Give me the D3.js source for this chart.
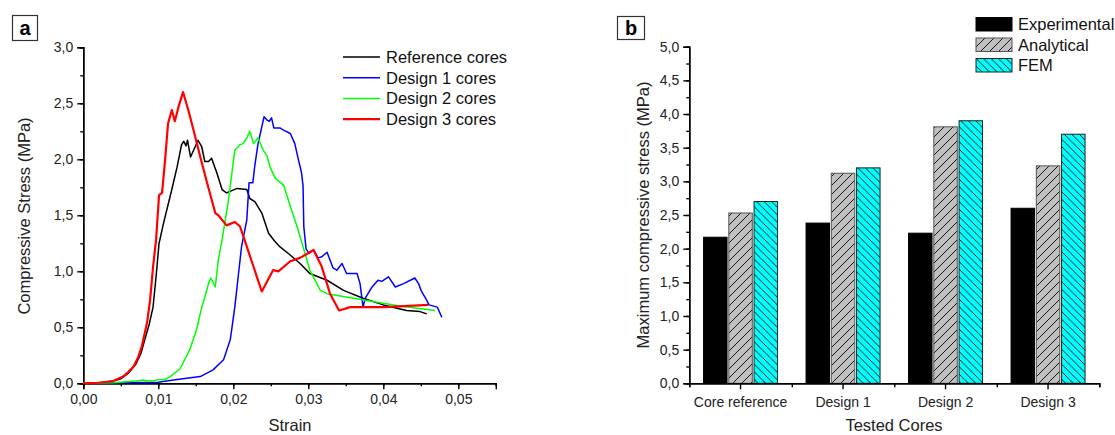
<!DOCTYPE html>
<html lang="en">
<head>
	<meta charset="UTF-8">
	<title>Compressive stress</title>
	<script src="https://cdn.jsdelivr.net/npm/d3@7"></script>
	<style>
		body{margin:0;background:#fff;}
		svg{display:block;font-family:"Liberation Sans",Arial,sans-serif;}
		.tick text{font-size:14px;fill:#222;}
		.domain,.tick line{stroke:#000;stroke-width:1.4;}
		.title{font-size:16.5px;fill:#222;}
		.leg{font-size:16.5px;fill:#111;}
	</style>
</head>
<body>
	<svg id="svg" width="1115" height="435"></svg>
	<script>
		// panel a : stress-strain curves [strain, stress MPa]
		var refCores = [[0,0],[0.002,0.003],[0.004,0.02],[0.005,0.04],[0.006,0.09],[0.007,0.17],[0.0077,0.27],[0.0082,0.39],[0.0088,0.53],[0.0093,0.68],[0.0097,0.95],[0.0101,1.25],[0.0107,1.43],[0.0118,1.73],[0.0125,1.93],[0.0131,2.13],[0.0134,2.16],[0.0137,2.12],[0.0139,2.17],[0.0143,2.02],[0.0149,2.11],[0.0153,2.17],[0.0158,2.11],[0.0162,1.98],[0.0167,1.98],[0.0171,2.01],[0.0178,1.88],[0.0185,1.73],[0.0191,1.70],[0.0198,1.72],[0.0205,1.74],[0.0218,1.73],[0.0222,1.65],[0.0229,1.62],[0.0238,1.52],[0.0247,1.34],[0.0255,1.27],[0.0262,1.22],[0.0275,1.15],[0.0289,1.07],[0.0302,0.98],[0.0325,0.92],[0.0347,0.83],[0.0373,0.76],[0.040,0.70],[0.0431,0.65],[0.0449,0.64],[0.0458,0.62]];
		var design1 = [[0,0],[0.005,0.005],[0.01,0.01],[0.012,0.03],[0.0156,0.06],[0.0173,0.12],[0.0187,0.21],[0.0196,0.39],[0.0202,0.68],[0.0207,0.98],[0.0211,1.22],[0.0218,1.46],[0.0221,1.79],[0.0226,1.79],[0.0229,1.96],[0.0233,2.14],[0.0238,2.29],[0.0241,2.38],[0.0245,2.35],[0.0248,2.34],[0.0251,2.37],[0.0254,2.28],[0.0262,2.28],[0.0267,2.26],[0.0276,2.23],[0.0282,2.14],[0.0287,1.99],[0.0291,1.88],[0.0293,1.76],[0.0294,1.40],[0.0297,1.20],[0.0301,1.16],[0.0307,1.19],[0.0313,1.12],[0.0318,1.13],[0.0325,1.17],[0.0333,1.03],[0.0338,1.01],[0.0345,1.07],[0.0351,0.98],[0.0365,0.98],[0.0369,0.89],[0.0373,0.68],[0.0376,0.76],[0.0385,0.86],[0.0393,0.92],[0.0398,0.91],[0.0407,0.95],[0.0416,0.86],[0.0427,0.89],[0.0442,0.94],[0.0447,0.89],[0.0451,0.82],[0.0458,0.74],[0.0461,0.70],[0.0472,0.68],[0.0478,0.59]];
		var design2 = [[0,0],[0.004,0.005],[0.007,0.02],[0.008,0.03],[0.0085,0.02],[0.0095,0.025],[0.0102,0.035],[0.0108,0.03],[0.0116,0.06],[0.0129,0.13],[0.0142,0.30],[0.0151,0.48],[0.0158,0.68],[0.0162,0.77],[0.0167,0.89],[0.017,0.94],[0.0176,0.86],[0.018,1.10],[0.0185,1.28],[0.0193,1.61],[0.0202,2.08],[0.0209,2.13],[0.0213,2.14],[0.0218,2.19],[0.0222,2.25],[0.0227,2.14],[0.0233,2.19],[0.024,2.08],[0.0245,2.03],[0.0249,1.93],[0.0256,1.83],[0.0267,1.77],[0.0276,1.58],[0.0285,1.40],[0.0293,1.22],[0.0302,1.01],[0.0316,0.83],[0.0325,0.80],[0.0378,0.74],[0.0422,0.69],[0.0469,0.65]];
		var design3 = [[0,0],[0.002,0.005],[0.004,0.02],[0.0053,0.06],[0.006,0.1],[0.0067,0.15],[0.0073,0.23],[0.0078,0.33],[0.0085,0.54],[0.0089,0.74],[0.0093,1.04],[0.0097,1.28],[0.0101,1.68],[0.0105,1.70],[0.0109,1.99],[0.0113,2.32],[0.0118,2.44],[0.0122,2.34],[0.0127,2.47],[0.0133,2.60],[0.014,2.44],[0.0147,2.26],[0.0156,2.02],[0.0165,1.79],[0.0176,1.52],[0.018,1.50],[0.0191,1.41],[0.0202,1.44],[0.0209,1.40],[0.0218,1.22],[0.0238,0.82],[0.0253,1.01],[0.026,1.00],[0.0276,1.09],[0.0289,1.12],[0.0307,1.19],[0.0318,1.04],[0.0329,0.80],[0.0341,0.65],[0.0356,0.68],[0.040,0.68],[0.046,0.70]];
		var curveNames = ["Reference cores","Design 1 cores","Design 2 cores","Design 3 cores"];
		var strainTicks = [0,0.01,0.02,0.03,0.04,0.05];

		// panel b : maximum compressive stress
		var cores = ["Core reference","Design 1","Design 2","Design 3"];
		var methods = ["Experimental","Analytical","FEM"];
		var experimental = [2.17,2.38,2.23,2.60];
		var analytical = [2.53,3.12,3.81,3.23];
		var fem = [2.70,3.20,3.90,3.70];

		var svg = d3.select("svg");
		var comma = function(f){ return function(d){ return d3.format(f)(d).replace(".",","); }; };

		// ---------- panel a ----------
		var x = d3.scaleLinear().domain([0,0.055]).range([83.3,495.8]),
			y = d3.scaleLinear().domain([0,3]).range([383.3,47.3]);

		var ga = svg.append("g");
		ga.append("g").attr("transform","translate(0,383.3)")
			.call(d3.axisBottom(x).tickValues(d3.range(0,0.0551,0.005)).tickSize(3).tickFormat(""));
		ga.append("g").attr("transform","translate(0,383.3)")
			.call(d3.axisBottom(x).tickValues(strainTicks).tickSize(6).tickPadding(5).tickFormat(comma(".2f")));
		ga.append("g").attr("transform","translate(83.3,0)")
			.call(d3.axisLeft(y).tickValues(d3.range(0,3.01,0.25)).tickSize(3).tickFormat(""));
		ga.append("g").attr("transform","translate(83.3,0)")
			.call(d3.axisLeft(y).tickValues(d3.range(0,3.01,0.5)).tickSize(6).tickPadding(4).tickFormat(comma(".1f")));

		var line = d3.line().x(function(d){return x(d[0]);}).y(function(d){return y(d[1]);});
		var curves = [refCores,design1,design2,design3],
			colors = ["#000","#0000ff","#00ff00","#ff0000"],
			widths = [1.5,1.5,1.5,2.2];
		curves.forEach(function(c,i){
			ga.append("path").datum(c).attr("d",line)
				.attr("fill","none").attr("stroke",colors[i]).attr("stroke-width",widths[i])
				.attr("stroke-linejoin","round");
		});

		var la = ga.selectAll(".lega").data(curveNames).enter().append("g")
			.attr("transform",function(d,i){return "translate(343,"+(57+i*20.7)+")";});
		la.append("line").attr("x1",0).attr("x2",37)
			.attr("stroke",function(d,i){return colors[i];}).attr("stroke-width",function(d,i){return widths[i];});
		la.append("text").attr("class","leg").attr("x",43).attr("dy","0.36em").text(function(d){return d;});

		ga.append("text").attr("class","title").attr("text-anchor","middle")
			.attr("transform","translate(30,216) rotate(-90)").text("Compressive Stress (MPa)");
		ga.append("text").attr("class","title").attr("text-anchor","middle")
			.attr("x",290).attr("y",431).text("Strain");

		ga.append("rect").attr("x",12.5).attr("y",15.5).attr("width",25).attr("height",25)
			.attr("fill","#fff").attr("stroke","#333").attr("stroke-width",1.2);
		ga.append("text").attr("x",25).attr("y",35).attr("text-anchor","middle")
			.style("font-size","20px").style("font-weight","bold").text("a");

		// ---------- panel b ----------
		var defs = svg.append("defs");
		var p1 = defs.append("pattern").attr("id","hatchA").attr("patternUnits","userSpaceOnUse")
			.attr("width",9).attr("height",9);
		p1.append("rect").attr("width",9).attr("height",9).attr("fill","#c0c0c0");
		p1.append("path").attr("d","M-1,1 l2,-2 M0,9 l9,-9 M8,10 l2,-2").attr("stroke","#000").attr("stroke-width",0.9);
		var p2 = defs.append("pattern").attr("id","hatchF").attr("patternUnits","userSpaceOnUse")
			.attr("width",7.5).attr("height",7.5);
		p2.append("rect").attr("width",7.5).attr("height",7.5).attr("fill","#00ffff");
		p2.append("path").attr("d","M-1,6.5 l2,2 M0,0 l7.5,7.5 M6.5,-1 l2,2").attr("stroke","#000").attr("stroke-width",0.9);

		var fills = ["#000","url(#hatchA)","url(#hatchF)"],
			strokes = ["#000","#555","#222"];

		var xb = d3.scaleBand().domain(cores).range([689.3,1099.3]).padding(0),
			xi = d3.scaleBand().domain(methods).range([-37,37]).paddingInner(0.07),
			yb = d3.scaleLinear().domain([0,5]).range([383.3,46.7]);

		var gb = svg.append("g");
		var series = [experimental,analytical,fem];
		series.forEach(function(s,k){
			gb.selectAll(".bar"+k).data(s).enter().append("rect")
				.attr("x",function(d,i){return xb(cores[i])+xb.bandwidth()/2+xi(methods[k]);})
				.attr("width",xi.bandwidth())
				.attr("y",function(d){return yb(d);})
				.attr("height",function(d){return yb(0)-yb(d);})
				.attr("fill",fills[k]).attr("stroke",strokes[k]).attr("stroke-width",1);
		});

		gb.append("g").attr("transform","translate(689.3,0)")
			.call(d3.axisLeft(yb).tickValues(d3.range(0,5.01,0.25)).tickSize(3).tickFormat(""));
		gb.append("g").attr("transform","translate(689.3,0)")
			.call(d3.axisLeft(yb).tickValues(d3.range(0,5.01,0.5)).tickSize(6).tickPadding(4).tickFormat(comma(".1f")));
		var bounds = d3.scaleLinear().domain([0,4]).range([689.3,1099.3]);
		gb.append("g").attr("transform","translate(0,383.3)")
			.call(d3.axisBottom(bounds).tickValues([0,1,2,3,4]).tickSize(4).tickFormat(""));
		gb.append("g").attr("transform","translate(0,383.3)")
			.call(d3.axisBottom(xb).tickSize(6).tickPadding(8).tickSizeOuter(0));

		gb.append("text").attr("class","title").attr("text-anchor","middle")
			.attr("transform","translate(649,215) rotate(-90)").text("Maximum compressive stress (MPa)");
		gb.append("text").attr("class","title").attr("text-anchor","middle")
			.attr("x",894).attr("y",431).text("Tested Cores");

		var lb = gb.selectAll(".legb").data(methods).enter().append("g")
			.attr("transform",function(d,i){return "translate(976,"+(17.5+i*20.5)+")";});
		lb.append("rect").attr("width",36).attr("height",13.5)
			.attr("fill",function(d,i){return fills[i];}).attr("stroke",function(d,i){return strokes[i];});
		lb.append("text").attr("class","leg").attr("x",42).attr("y",7).attr("dy","0.36em").text(function(d){return d;});

		gb.append("rect").attr("x",617.5).attr("y",16.5).attr("width",27).attr("height",23)
			.attr("fill","#fff").attr("stroke","#333").attr("stroke-width",1.2);
		gb.append("text").attr("x",631).attr("y",34.5).attr("text-anchor","middle")
			.style("font-size","20px").style("font-weight","bold").text("b");
	</script>
</body>
</html>
